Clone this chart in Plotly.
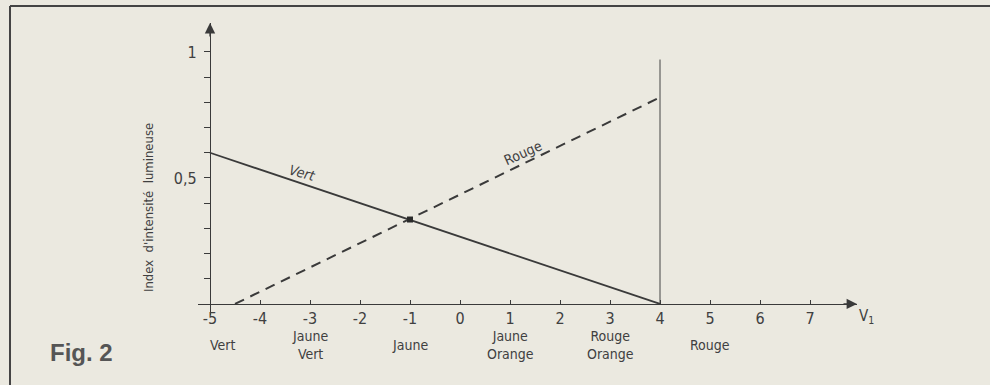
import plotly.graph_objects as go

# Colour index (V1) against relative light intensity of the two LEDs
vert_x = [-5, 4]
vert_y = [0.6, 0.0]
rouge_x = [-4.5, 4]
rouge_y = [0.0, 0.82]
crossing_x = [-1]
crossing_y = [0.335]
limit_x = [4, 4]
limit_y = [0.0, 0.97]

x_ticks = [-5, -4, -3, -2, -1, 0, 1, 2, 3, 4, 5, 6, 7]
x_tick_text = ["-5", "-4", "-3", "-2", "-1", "0", "1", "2", "3", "4", "5", "6", "7"]
y_ticks = [0.1, 0.2, 0.3, 0.4, 0.5, 0.6, 0.7, 0.8, 0.9, 1.0]
y_tick_text = ["", "", "", "", "0,5", "", "", "", "", "1"]

colour_pos = [-5, -3, -1, 1, 3, 5]
colour_names = ["Vert", "Jaune<br>Vert", "Jaune", "Jaune<br>Orange", "Rouge<br>Orange", "Rouge"]

W, H = 990, 385
L, R, T, B = 198, 133, 23, 70
X_RANGE = [-5.24, 7.94]
Y_RANGE = [-0.044, 1.115]

INK = "#3a3a3a"
PAPER = "#ebe9e0"
LETTER = "DejaVu Sans Condensed, Liberation Sans Narrow, Arial Narrow, sans-serif"


def px_x(p):
    return (p - L) / (W - L - R)


def px_y(p):
    return (H - B - p) / (H - T - B)


fig = go.Figure()

fig.add_trace(go.Scatter(x=limit_x, y=limit_y, mode="lines",
                         line=dict(color="#444444", width=1), hoverinfo="skip"))
fig.add_trace(go.Scatter(x=rouge_x, y=rouge_y, mode="lines",
                         line=dict(color=INK, width=2, dash="10px,7px"), name="Rouge"))
fig.add_trace(go.Scatter(x=vert_x, y=vert_y, mode="lines",
                         line=dict(color=INK, width=1.8), name="Vert"))
fig.add_trace(go.Scatter(x=crossing_x, y=crossing_y, mode="markers",
                         marker=dict(symbol="square", size=6, color="#2a2a2a"),
                         hoverinfo="skip"))

zero_x = (0 - Y_RANGE[0]) / (Y_RANGE[1] - Y_RANGE[0])
left_y = (-5 - X_RANGE[0]) / (X_RANGE[1] - X_RANGE[0])

fig.update_xaxes(range=X_RANGE, anchor="free", position=zero_x,
                 showline=True, linecolor=INK, linewidth=1.3,
                 showgrid=False, zeroline=False,
                 tickmode="array", tickvals=x_ticks, ticktext=x_tick_text,
                 ticks="inside", ticklen=4, tickcolor=INK, tickwidth=1.3,
                 tickfont=dict(family=LETTER, size=16, color="#404040"))
fig.update_yaxes(range=Y_RANGE, anchor="free", position=left_y,
                 showline=True, linecolor=INK, linewidth=1.3,
                 showgrid=False, zeroline=False,
                 tickmode="array", tickvals=y_ticks, ticktext=y_tick_text,
                 ticks="outside", ticklen=6, tickcolor=INK, tickwidth=1.3,
                 ticklabelstandoff=4,
                 tickfont=dict(family=LETTER, size=16, color="#404040"))

annotations = []
# axis arrowheads
annotations.append(dict(x=X_RANGE[1], y=0, ax=X_RANGE[1] - 0.3, ay=0,
                        xref="x", yref="y", axref="x", ayref="y", text="",
                        showarrow=True, arrowhead=2, arrowsize=1.6,
                        arrowwidth=1.3, arrowcolor=INK))
annotations.append(dict(x=-5, y=Y_RANGE[1], ax=-5, ay=Y_RANGE[1] - 0.06,
                        xref="x", yref="y", axref="x", ayref="y", text="",
                        showarrow=True, arrowhead=2, arrowsize=1.6,
                        arrowwidth=1.3, arrowcolor=INK))
# colour names under the index scale
for xp, name in zip(colour_pos, colour_names):
    annotations.append(dict(x=xp + 0.25 if xp == -5 else xp, y=px_y(345),
                            xref="x", yref="paper", text=name, showarrow=False,
                            xanchor="center", yanchor="middle",
                            font=dict(family=LETTER, size=14, color="#404040")))
# curve names
annotations.append(dict(x=-3.15, y=0.52, xref="x", yref="y", text="<i>Vert</i>",
                        showarrow=False, textangle=15,
                        xanchor="center", yanchor="middle",
                        font=dict(family=LETTER, size=14, color="#404040")))
annotations.append(dict(x=1.25, y=0.6, xref="x", yref="y", text="Rouge",
                        showarrow=False, textangle=-24,
                        xanchor="center", yanchor="middle",
                        font=dict(family=LETTER, size=14, color="#404040")))
# axis titles
annotations.append(dict(x=px_x(148), y=px_y(208), xref="paper", yref="paper",
                        text="Index\u00a0\u00a0d'intensité\u00a0\u00a0lumineuse",
                        textangle=-90, showarrow=False,
                        xanchor="center", yanchor="middle",
                        font=dict(family=LETTER, size=13, color="#404040")))
annotations.append(dict(x=px_x(866), y=px_y(316), xref="paper", yref="paper",
                        text="V<sub>1</sub>", showarrow=False,
                        xanchor="center", yanchor="middle",
                        font=dict(family=LETTER, size=15, color="#404040")))
# figure number
annotations.append(dict(x=px_x(48), y=px_y(352), xref="paper", yref="paper",
                        text="<b>Fig. 2</b>", showarrow=False,
                        xanchor="left", yanchor="middle",
                        font=dict(family="Liberation Sans, Arial, sans-serif",
                                  size=24, color="#555555")))

shapes = [
    dict(type="line", xref="paper", yref="paper", x0=px_x(10), x1=px_x(10),
         y0=px_y(6), y1=px_y(390), line=dict(color="#444444", width=2)),
    dict(type="line", xref="paper", yref="paper", x0=px_x(10), x1=px_x(995),
         y0=px_y(6), y1=px_y(6), line=dict(color="#444444", width=2)),
]

fig.update_layout(width=W, height=H, margin=dict(l=L, r=R, t=T, b=B),
                  paper_bgcolor=PAPER, plot_bgcolor=PAPER,
                  showlegend=False, annotations=annotations, shapes=shapes)

fig.write_html("out.html")
